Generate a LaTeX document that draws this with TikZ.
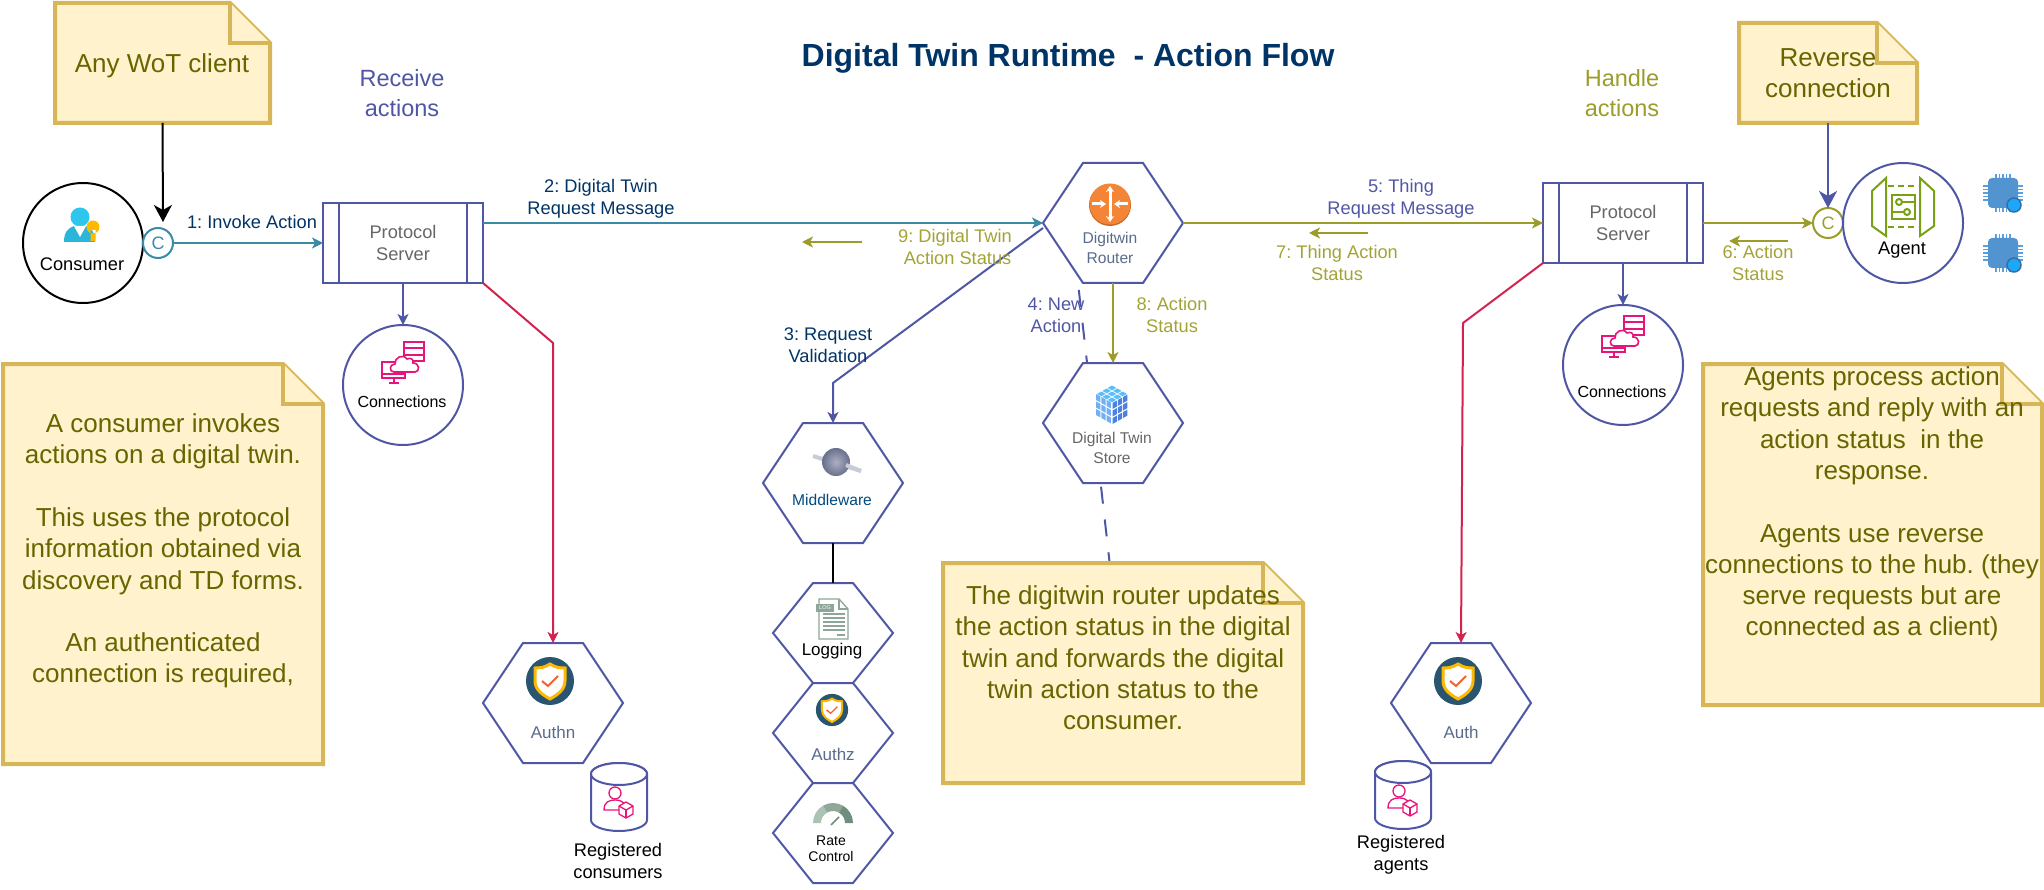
\documentclass[tikz,border=0pt]{standalone}
\usepackage{fontspec}
\setmainfont{Liberation Sans}
\frenchspacing
\usetikzlibrary{arrows.meta, positioning, calc}
\definecolor{navyblue}{HTML}{003366}
\definecolor{planblue}{HTML}{4F57A4}
\definecolor{flowteal}{HTML}{3A8CA6}
\definecolor{flowolive}{HTML}{9C9C2A}
\definecolor{textolive}{HTML}{A3A335}
\definecolor{flowred}{HTML}{D2234E}
\definecolor{notefill}{HTML}{FFF2CC}
\definecolor{noteline}{HTML}{D6B656}
\definecolor{notetext}{HTML}{666600}
\definecolor{slategrey}{HTML}{5A6B8C}
\definecolor{iconpink}{HTML}{E7157B}
\definecolor{icongreen}{HTML}{7AA116}
\definecolor{logsage}{HTML}{8DA697}
\tikzstyle{every picture} = [x=1pt, y=-1pt, line width=2pt]
\tikzstyle{small arrow} = [-{Stealth[length=11pt,width=11pt,inset=3pt]}]
\tikzstyle{big arrow} = [-{Stealth[length=17pt,width=18pt,inset=5pt]}]
\tikzstyle{hex box} = [rectangle, inner sep=0pt, outer sep=0pt]
\tikzstyle{hex line} = [draw=planblue, fill=white]
\tikzstyle{round box} = [circle, minimum size=120pt, inner sep=0pt, outer sep=0pt, draw=planblue, fill=white]
\tikzstyle{port box} = [circle, minimum size=30pt, inner sep=0pt, outer sep=0pt, fill=white, font=\fontsize{18}{22}\selectfont]
\tikzstyle{server box} = [rectangle, minimum width=160pt, minimum height=80pt, inner sep=0pt, outer sep=0pt, draw=planblue, fill=white, align=center, text=black!60, font=\fontsize{18.25}{22}\selectfont]
\tikzstyle{note box} = [rectangle, inner sep=0pt, outer sep=0pt]
\tikzstyle{note paper} = [draw=noteline, fill=notefill, line width=4pt, miter limit=10]
\tikzstyle{note text} = [align=center, text=notetext, font=\fontsize{26}{31.3}\selectfont]
\tikzstyle{flow label} = [align=center, font=\fontsize{18.25}{22}\selectfont]
\tikzstyle{head label} = [align=center, font=\fontsize{23.5}{30}\selectfont]
\tikzstyle{item label} = [align=center, font=\fontsize{15.6}{20}\selectfont]
\newcommand{\hexnode}[5]{
	\draw[hex line] (#2-#4/2,#3) -- (#2-#4/2+40,#3-#5/2) -- (#2+#4/2-40,#3-#5/2) -- (#2+#4/2,#3) -- (#2+#4/2-40,#3+#5/2) -- (#2-#4/2+40,#3+#5/2) -- cycle;
	\node (#1) [hex box, minimum width=#4pt, minimum height=#5pt] at (#2,#3) {};
}
\newcommand{\storenode}[3]{
	\draw[hex line] (#2-28,#3-23) -- (#2-28,#3+23) arc [start angle=180, end angle=0, x radius=28, y radius=11] -- (#2+28,#3-23) arc [start angle=0, end angle=-180, x radius=28, y radius=11] -- cycle;
	\draw[hex line] (#2,#3-23) ellipse [x radius=28, y radius=11];
	\node (#1) [hex box, minimum width=56pt, minimum height=68pt] at (#2,#3) {};
}
\newcommand{\foldnote}[5]{
	\draw[note paper] (#2,#3) -- (#4-40,#3) -- (#4,#3+40) -- (#4,#5) -- (#2,#5) -- cycle;
	\draw[note paper] (#4-40,#3) -- (#4-40,#3+40) -- (#4,#3+40);
	\node (#1) [note box, minimum width=#4pt-#2pt, minimum height=#5pt-#3pt] at ({(#2+#4)/2},{(#3+#5)/2}) {};
}
\newcommand{\shieldicon}[3]{
	\begin{scope}[shift={(#1,#2)}, scale=#3]
		\fill[fill={rgb,255:red,42;green,85;blue,112}] (0,0) circle [radius=24];
		\draw[draw={rgb,255:red,255;green,184;blue,0}, fill=white, line width=#3*3pt] (0,-17) .. controls (-6,-13) and (-11,-13) .. (-15,-13) -- (-15,0) .. controls (-15,9) and (-7,14) .. (0,18) .. controls (7,14) and (15,9) .. (15,0) -- (15,-13) .. controls (11,-13) and (6,-13) .. (0,-17) -- cycle;
		\draw[draw={rgb,255:red,240;green,100;blue,50}, line width=#3*2pt] (-8,0) -- (-2,5) -- (8,-5);
	\end{scope}
}
\newcommand{\cloudicon}[2]{
	\begin{scope}[shift={(#1,#2)}, draw=iconpink, line width=1.6pt]
		\draw (1,-21) rectangle (21,-2);
		\draw (1,-15) -- (21,-15);
		\draw (1,-8) -- (21,-8);
		\draw (-21,-1) rectangle (2,15);
		\draw (-21,11) -- (2,11);
		\draw (-14,20) -- (-4,20);
		\draw (-9,15) -- (-9,20);
		\draw[fill=white] (-9,9) .. controls (-14,9) and (-14,1) .. (-8,1) .. controls (-9,-5) and (0,-10) .. (4,-4) .. controls (8,-6) and (11,-3) .. (10,0) .. controls (17,0) and (17,9) .. (12,9) -- cycle;
	\end{scope}
}
\newcommand{\usercube}[2]{
	\begin{scope}[shift={(#1,#2)}, draw=iconpink, line width=1.3pt]
		\draw (-3,-10) circle [radius=6];
		\draw (1,7) -- (-14,7) .. controls (-14,-1) and (-9,-3) .. (-3,-3) .. controls (1,-3) and (4,-2) .. (6,0);
		\draw (8,-1) -- (15,3) -- (15,11) -- (8,15) -- (1,11) -- (1,3) -- cycle;
		\draw (1,3) -- (8,7) -- (15,3);
		\draw (8,7) -- (8,15);
	\end{scope}
}
\newcommand{\chipicon}[2]{
	\begin{scope}[shift={(#1,#2)}]
		\draw[draw={rgb,255:red,90;green,160;blue,220}, line width=1.5pt] \foreach \k in {-7,-3.5,0,3.5,7} {(\k,-19) -- (\k,19) (-20,\k) -- (20,\k)};
		\fill[fill={rgb,255:red,82;green,148;blue,207}, rounded corners=4pt] (-15,-15) rectangle (15,15);
		\draw[draw={rgb,255:red,50;green,110;blue,170}, fill={rgb,255:red,30;green,167;blue,247}, line width=1.5pt] (11,12) circle [radius=7];
	\end{scope}
}
\begin{document}
\begin{tikzpicture}
	\useasboundingbox (0,0) rectangle (2044,890);
	\coordinate (dash start) at (1078,283);
	\coordinate (dash end) at (1111,575);
	\draw[planblue, dash pattern=on 17pt off 16pt, dash phase=26pt] (dash start) -- (dash end);

	\node (title) [text=navyblue, font=\bfseries\fontsize{32}{40}\selectfont] at (1068,58) {Digital Twin Runtime\ \ - Action Flow};
	\node (head receive) [head label, text=planblue] at (402,93) {Receive\\actions};
	\node (head handle) [head label, text=flowolive] at (1622,93) {Handle\\actions};

	\foldnote{note wot}{55}{3}{270}{123}
	\node (text wot) [note text] at (162,66) {Any WoT client};
	\foldnote{note consumer}{3}{364}{323}{764}
	\node (text consumer) [note text] at (163,551) {A consumer invokes\\actions on a digital twin.\\[31.3pt]This uses the protocol\\information obtained via\\discovery and TD forms.\\[31.3pt]An authenticated\\connection is required,};
	\foldnote{note reverse}{1739}{23}{1917}{123}
	\node (text reverse) [note text] at (1828,73) {Reverse\\connection};

	\node (node consumer) [round box, draw=black] at (83,243) {};
	\node (port consumer) [port box, draw=flowteal, text=flowteal] at (158,243) {C};
	\node (node server) [server box] at (403,243) {Protocol\\Server};
	\node (node conn) [round box] at (403,385) {};
	\hexnode{node router}{1113}{223}{140}{120}
	\hexnode{node store}{1113}{423}{140}{120}
	\hexnode{node middleware}{833}{483}{140}{120}
	\hexnode{node logging}{833}{633}{120}{100}
	\hexnode{node authz}{833}{733}{120}{100}
	\hexnode{node rate}{833}{833}{120}{100}
	\hexnode{node authn}{553}{703}{140}{120}
	\hexnode{node auth}{1461}{703}{140}{120}
	\storenode{node regcons}{619}{797}
	\storenode{node regagents}{1403}{795}
	\node (node thing) [server box] at (1623,223) {Protocol\\Server};
	\node (node connagent) [round box] at (1623,365) {};
	\node (port agent) [port box, draw=flowolive, text=flowolive] at (1828,223) {C};
	\node (node agent) [round box] at (1903,223) {};

	\foreach \srv in {node server, node thing} {
		\draw[planblue] ([xshift=16pt]\srv.north west) -- ([xshift=16pt]\srv.south west);
		\draw[planblue] ([xshift=-16pt]\srv.north east) -- ([xshift=-16pt]\srv.south east);
	}

	\foldnote{note router}{943}{563}{1303}{783}
	\node (text router) [note text] at (1123,658) {The digitwin router updates\\the action status in the digital\\twin and forwards the digital\\twin action status to the\\consumer.};
	\foldnote{note agent}{1703}{364}{2042}{705}
	\node (text agent) [note text] at (1872,504) {Agents process action\\requests and reply with an\\action status\ \ in the\\response.\\[31.3pt]Agents use reverse\\connections to the hub. (they\\serve requests but are\\connected as a client)};

	\coordinate (wot end) at (163,222);
	\coordinate (bend valid) at (833,383);
	\coordinate (bend authn) at (553,343);
	\coordinate (bend auth) at (1463,323);
	\draw[big arrow, black] (note wot.south) -- (wot end);
	\draw[small arrow, flowteal] (port consumer.east) -- (node server.west);
	\draw[small arrow, planblue] (node server.south) -- (node conn.north);
	\draw[small arrow, flowteal] ([yshift=-20pt]node server.north east) -- (node router.west);
	\draw[small arrow, planblue] ([yshift=-5pt]node router.west) -- (bend valid) -- (node middleware.north);
	\draw[black] (node middleware.south) -- (node logging.north);
	\draw[small arrow, flowolive] (node router.south) -- (node store.north);
	\draw[small arrow, flowolive] (node router.east) -- (node thing.west);
	\draw[small arrow, planblue] (node thing.south) -- (node connagent.north);
	\draw[small arrow, flowolive] (node thing.east) -- (port agent.west);
	\draw[big arrow, planblue] (note reverse.south) -- (port agent.north);
	\draw[small arrow, flowred] (node server.south east) -- (bend authn) -- (node authn.north);
	\draw[small arrow, flowred] (node thing.south west) -- (bend auth) -- (node auth.north);

	\coordinate (back9a) at (862,242);
	\coordinate (back9b) at (802,242);
	\coordinate (back7a) at (1368,233);
	\coordinate (back7b) at (1309,233);
	\coordinate (back6a) at (1788,241);
	\coordinate (back6b) at (1729,241);
	\draw[small arrow, flowolive] (back9a) -- (back9b);
	\draw[small arrow, flowolive] (back7a) -- (back7b);
	\draw[small arrow, flowolive] (back6a) -- (back6b);

	\node (label 1) [flow label, text=navyblue] at (252,222) {1: Invoke Action};
	\node (label 2) [flow label, text=navyblue] at (601,199) {2: Digital Twin\\Request Message};
	\node (label 3) [flow label, text=navyblue] at (828,345) {3: Request\\Validation};
	\node (label 4) [flow label, text=planblue] at (1056,315) {4: New\\Action};
	\node (label 5) [flow label, text=planblue] at (1401,199) {5: Thing\\Request Message};
	\node (label 6) [flow label, text=textolive] at (1758,263) {6: Action\\Status};
	\node (label 7) [flow label, text=textolive] at (1337,263) {7: Thing Action\\Status};
	\node (label 8) [flow label, text=textolive] at (1172,315) {8: Action\\Status};
	\node (label 9) [flow label, text=textolive] at (955,247) {9: Digital Twin\\\ Action Status};

	\node (label consumer) [flow label] at (82,264) {Consumer};
	\node (label conn) [item label, font=\fontsize{16}{20}\selectfont] at (402,402) {Connections};
	\node (label connagent) [item label, font=\fontsize{16}{20}\selectfont] at (1622,392) {Connections};
	\node (label agent) [flow label] at (1902,250) {Agent};
	\node (label router) [item label, text=slategrey] at (1110,248) {Digitwin\\Router};
	\node (label store) [item label, text=black!60] at (1112,448) {Digital Twin\\Store};
	\node (label middleware) [item label, text={rgb,255:red,0;green,76;blue,128}] at (832,500) {Middleware};
	\node (label logging) [item label, font=\fontsize{17}{20}\selectfont] at (832,651) {Logging};
	\node (label authz) [item label, text=slategrey, font=\fontsize{17}{20}\selectfont] at (833,754) {Authz};
	\node (label rate) [item label, font=\fontsize{14}{16}\selectfont] at (831,849) {Rate\\Control};
	\node (label authn) [item label, text=slategrey, font=\fontsize{17}{20}\selectfont] at (553,732) {Authn};
	\node (label auth) [item label, text=slategrey, font=\fontsize{17}{20}\selectfont] at (1461,732) {Auth};
	\node (label regcons) [flow label] at (618,861) {Registered\\consumers};
	\node (label regagents) [flow label] at (1401,855) {Registered\\agents};

	\fill[fill={rgb,255:red,47;green,198;blue,238}] (80,217) circle [radius=9.5];
	\fill[fill={rgb,255:red,41;green,182;blue,216}] (64,242) .. controls (64,232) and (68,228) .. (74,226) -- (86,226) .. controls (91,228) and (95,232) .. (95,242) -- cycle;
	\fill[white] (74,226) -- (80,237) -- (86,226) -- cycle;
	\fill[fill={rgb,255:red,255;green,185;blue,0}] (93,227) circle [radius=6.5] (90.5,230) rectangle (95.5,241);

	\cloudicon{403}{363}
	\cloudicon{1623}{337}
	\usercube{618}{803}
	\usercube{1402}{801}
	\shieldicon{550}{681}{1}
	\shieldicon{1458}{681}{1}
	\shieldicon{832}{710}{0.67}
	\chipicon{2003}{193}
	\chipicon{2003}{253}

	\begin{scope}[shift={(1110,204)}]
		\fill[fill={rgb,255:red,200;green,105;blue,40}] (0,1) circle [radius=21];
		\fill[fill={rgb,255:red,245;green,133;blue,54}] (0,0) circle [radius=20.5];
		\draw[white, line width=3pt, {Stealth[length=6pt,width=8pt]}-{Stealth[length=6pt,width=8pt]}] (0,-18) -- (0,18);
		\draw[white, line width=3pt, -{Stealth[length=6pt,width=8pt]}] (-18,0) -- (-4,0);
		\draw[white, line width=3pt, -{Stealth[length=6pt,width=8pt]}] (18,0) -- (4,0);
	\end{scope}

	\begin{scope}[shift={(1112,402)}]
		\foreach \i in {0,1,2} \foreach \j in {0,1,2} {
			\fill[fill={rgb,255:red,90;green,190;blue,250}] ($(0,-17)+\i*(5.3,3)+\j*(-5.3,3)+(0,0.5)$) -- ++(4.3,2.4) -- ++(-4.3,2.4) -- ++(-4.3,-2.4) -- cycle;
			\fill[fill={rgb,255:red,110;green,175;blue,245}] ($(-16,-8)+\i*(5.3,3)+\j*(0,7.5)$) -- ++(4.3,2.4) -- ++(0,6) -- ++(-4.3,-2.4) -- cycle;
			\fill[fill={rgb,255:red,75;green,130;blue,225}] ($(0.5,1)+\i*(5.3,-3)+\j*(0,7.5)$) -- ++(4.3,-2.4) -- ++(0,6) -- ++(-4.3,2.4) -- cycle;
		}
	\end{scope}

	\begin{scope}[shift={(836,462)}]
		\draw[draw={rgb,255:red,200;green,204;blue,216}, line width=4pt] (-23,-6) -- (25,9);
		\shade[inner color={rgb,255:red,172;green,176;blue,196}, outer color={rgb,255:red,105;green,112;blue,140}] (0,0) circle [radius=14];
		\draw[draw={rgb,255:red,200;green,204;blue,216}, line width=4pt] (10,3) -- (25,9);
	\end{scope}

	\begin{scope}[shift={(833,619)}, draw=logsage, line width=1.3pt]
		\draw (-14,-20) -- (6,-20) -- (15,-10) -- (15,20) -- (-14,20) -- cycle;
		\draw (6,-20) -- (6,-10) -- (15,-10);
		\fill[logsage] (-17,-15) rectangle (1,-7);
		\node (log tag) [text=white, font=\fontsize{5.5}{6}\selectfont, inner sep=0pt] at (-8,-11) {LOG};
		\foreach \k in {-5,-1,3,7,11} {\draw (-10,\k) -- (12,\k);}
		\draw (4,16) -- (12,16);
	\end{scope}

	\begin{scope}[shift={(833,823)}]
		\fill[fill={rgb,255:red,172;green,194;blue,181}] (-20,0) arc [start angle=180, end angle=240, radius=20] -- ({12*cos(240)},{12*sin(240)}) arc [start angle=240, end angle=180, radius=12] -- cycle;
		\fill[fill={rgb,255:red,143;green,168;blue,154}] ({20*cos(240)},{20*sin(240)}) arc [start angle=240, end angle=300, radius=20] -- ({12*cos(300)},{12*sin(300)}) arc [start angle=300, end angle=240, radius=12] -- cycle;
		\fill[fill={rgb,255:red,111;green,142;blue,126}] ({20*cos(300)},{20*sin(300)}) arc [start angle=300, end angle=360, radius=20] -- (12,0) arc [start angle=360, end angle=300, radius=12] -- cycle;
		\draw[draw={rgb,255:red,111;green,142;blue,126}, line width=1.5pt] (-2,2) -- (6,-6);
	\end{scope}

	\begin{scope}[shift={(1903,207)}, draw=icongreen, line width=2pt]
		\draw (-31,-16) -- (-17,-29) -- (-17,29) -- (-31,19) -- cycle;
		\draw (31,-16) -- (17,-29) -- (17,29) -- (31,19) -- cycle;
		\draw[dash pattern=on 6pt off 4pt] (-15,-21) -- (15,-21);
		\draw[dash pattern=on 6pt off 4pt] (-15,20) -- (15,20);
		\draw (-11,-12) rectangle (12,12);
		\draw (-4,-5) circle [radius=3];
		\draw (4,5) circle [radius=3];
		\draw (-1,-5) -- (11,-5);
		\draw (-11,5) -- (1,5);
	\end{scope}
\end{tikzpicture}
\end{document}
